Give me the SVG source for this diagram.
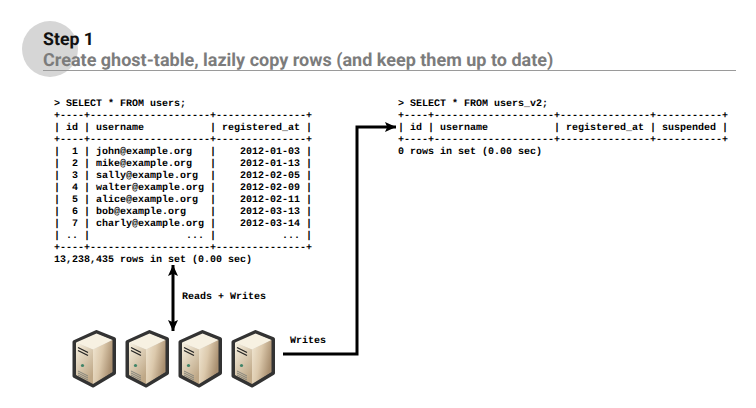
<svg xmlns="http://www.w3.org/2000/svg" xmlns:xlink="http://www.w3.org/1999/xlink" width="756" height="408" viewBox="0 0 756 408">
<style>
text{white-space:pre;text-rendering:geometricPrecision}
.m{font-family:"Liberation Mono","Courier New",monospace;font-size:10px;font-weight:700;fill:#000}
.t{font-family:Roboto,"Liberation Sans",sans-serif;font-weight:700}
.c{fill:none;stroke:#000;stroke-width:3}
</style>
<defs>
<marker id="a" markerUnits="userSpaceOnUse" markerWidth="11" markerHeight="10" refX="10" refY="5" orient="auto-start-reverse" viewBox="0 0 10 10" preserveAspectRatio="none"><path d="M0 0L10 5L0 10L2 5Z" fill="#000"/></marker>
<linearGradient id="f" x1="0" y1="0" x2="1" y2="0.4"><stop offset="0" stop-color="#f0e6d2"/><stop offset="0.5" stop-color="#dcc9ac"/><stop offset="1" stop-color="#a98f70"/></linearGradient>
<linearGradient id="l" x1="0" y1="0" x2="0.6" y2="1"><stop offset="0" stop-color="#f8f2e2"/><stop offset="1" stop-color="#bfa887"/></linearGradient>
<g id="srv">
<path d="M24.500 2L42 9V43L21 55.500L2.500 46V12Z" fill="#ddd" stroke="#333" stroke-width="4" stroke-linejoin="round"/>
<path d="M4 12.500L24.500 3.500L40.500 10L21 19.500Z" fill="#f7f1e2"/>
<path d="M21 19.500L40.500 10V42L21 54Z" fill="url(#f)"/>
<path d="M4 12.500L21 19.500V54L4 45Z" fill="url(#l)"/>
<path d="M6 17.500L16 22.500M6 20.500L16 25.500" stroke="#222" stroke-width="1.300"/>
<circle cx="10.500" cy="35.500" r="1.600" fill="#3f8468"/>
<path d="M6 41L16 46M6 43L16 48M6 45L16 50" stroke="#85857c" stroke-width="1"/>
</g>
</defs>
<rect width="756" height="408" fill="#fff"/>
<circle cx="50" cy="49" r="28" fill="#d6d6d6"/>
<rect x="43" y="70" width="693" height="1" fill="#9a9a9a"/>
<g id="title">
<text class="t" x="43" y="45" font-size="17.700" fill="#111">Step 1</text>
<text class="t" x="43" y="66" font-size="18" fill="#7c7c7c">Create ghost-table, lazily copy rows (and keep them up to date)</text>
</g>
<g id="users-table">
<text class="m" x="54" y="106">&gt; SELECT * FROM users;</text>
<text class="m" x="54" y="118">+----+--------------------+---------------+</text>
<text class="m" x="54" y="130">| id | username           | registered_at |</text>
<text class="m" x="54" y="142">+----+--------------------+---------------+</text>
<text class="m" x="54" y="154">|  1 | john@example.org   |    2012-01-03 |</text>
<text class="m" x="54" y="166">|  2 | mike@example.org   |    2012-01-13 |</text>
<text class="m" x="54" y="178">|  3 | sally@example.org  |    2012-02-05 |</text>
<text class="m" x="54" y="190">|  4 | walter@example.org |    2012-02-09 |</text>
<text class="m" x="54" y="202">|  5 | alice@example.org  |    2012-02-11 |</text>
<text class="m" x="54" y="214">|  6 | bob@example.org    |    2012-03-13 |</text>
<text class="m" x="54" y="226">|  7 | charly@example.org |    2012-03-14 |</text>
<text class="m" x="54" y="238">| .. |                ... |           ... |</text>
<text class="m" x="54" y="250">+----+--------------------+---------------+</text>
<text class="m" x="54" y="262">13,238,435 rows in set (0.00 sec)</text>
</g>
<g id="users-v2-table">
<text class="m" x="398" y="106">&gt; SELECT * FROM users_v2;</text>
<text class="m" x="398" y="118">+----+--------------------+---------------+-----------+</text>
<text class="m" x="398" y="130">| id | username           | registered_at | suspended |</text>
<text class="m" x="398" y="142">+----+--------------------+---------------+-----------+</text>
<text class="m" x="398" y="154">0 rows in set (0.00 sec)</text>
</g>
<g id="connectors">
<path class="c" d="M173 265V331" marker-start="url(#a)" marker-end="url(#a)"/>
<path class="c" d="M283 354H357V127H396" marker-end="url(#a)"/>
</g>
<text class="m" x="182" y="299">Reads + Writes</text>
<text class="m" x="290" y="343">Writes</text>
<g id="server-1"><use xlink:href="#srv" x="72" y="330"/></g>
<g id="server-2"><use xlink:href="#srv" x="125" y="330"/></g>
<g id="server-3"><use xlink:href="#srv" x="178" y="330"/></g>
<g id="server-4"><use xlink:href="#srv" x="231" y="330"/></g>
</svg>
